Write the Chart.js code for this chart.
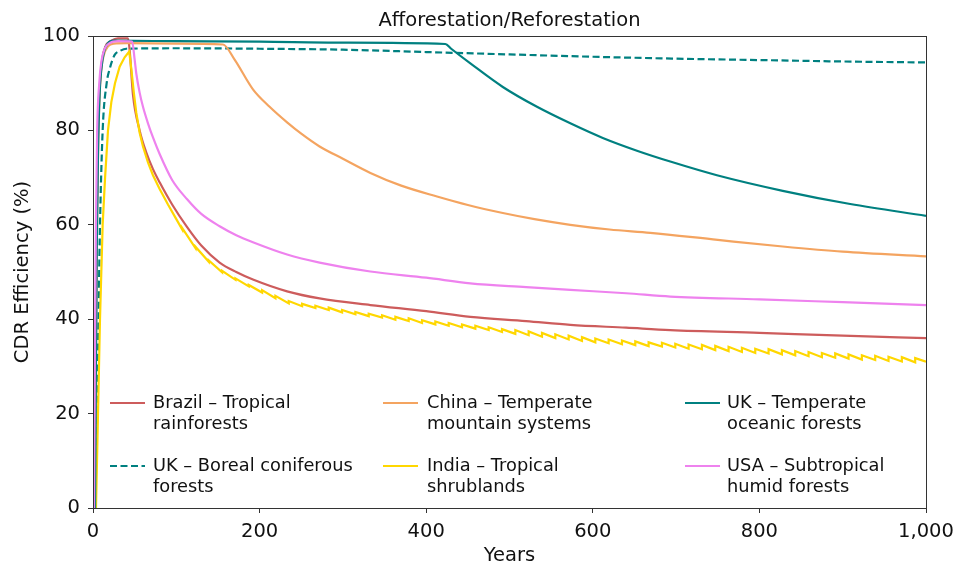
<!DOCTYPE html>
<html>
<head>
<meta charset="utf-8">
<script src="https://cdn.jsdelivr.net/npm/chart.js@4.4.1/dist/chart.umd.min.js"></script>
<style>
  html, body { margin: 0; padding: 0; background: #ffffff; }
  #wrap { width: 959px; height: 569px; position: relative; }
</style>
</head>
<body>
<div id="wrap"><canvas id="c" width="959" height="569"></canvas></div>
<script>
// ---------------- DATA ----------------
const chartTitle = 'Afforestation/Reforestation';
const xAxisTitle = 'Years';
const yAxisTitle = 'CDR Efficiency (%)';
const xTickValues = [0, 200, 400, 600, 800, 1000];
const xTickLabels = ['0', '200', '400', '600', '800', '1,000'];
const yTickValues = [0, 20, 40, 60, 80, 100];
const yTickLabels = ['0', '20', '40', '60', '80', '100'];

const seriesNames = [
  ['Brazil \u2013 Tropical', 'rainforests'],
  ['UK \u2013 Boreal coniferous', 'forests'],
  ['China \u2013 Temperate', 'mountain systems'],
  ['India \u2013 Tropical', 'shrublands'],
  ['UK \u2013 Temperate', 'oceanic forests'],
  ['USA \u2013 Subtropical', 'humid forests']
];

const brazilYears  = [2.5, 3.3, 4.4, 6, 8.4, 11, 15, 22, 30, 42, 44, 48, 56, 64, 72, 80, 95, 113, 130, 152, 172, 192, 233, 272, 333, 400, 453, 520, 573, 640, 693, 800, 900, 1000];
const brazilValues = [0, 30, 60, 80, 90, 95, 97.8, 99, 99.5, 99.5, 97, 87.5, 80, 75.3, 71.8, 69, 64.3, 59.5, 55.6, 52, 50, 48.4, 45.9, 44.4, 43, 41.7, 40.5, 39.6, 38.8, 38.2, 37.7, 37.1, 36.5, 36];

const ukBorealYears  = [3, 5, 7, 8.4, 11.6, 16.4, 20, 26, 32, 40, 100, 200, 300, 400, 500, 600, 700, 800, 900, 1000];
const ukBorealValues = [0, 25, 45, 60, 80, 90, 93, 96, 96.8, 97.3, 97.4, 97.3, 97.1, 96.6, 96.1, 95.6, 95.2, 94.9, 94.6, 94.4];

const chinaYears  = [2.5, 3.5, 4.5, 6, 8, 10, 13, 18, 25, 40, 100, 156, 170, 192, 212, 233, 250, 272, 300, 333, 370, 413, 450, 492, 530, 573, 620, 669, 750, 828, 900, 1000];
const chinaValues = [0, 30, 55, 75, 88, 93, 96, 97.8, 98.4, 98.5, 98.4, 98.2, 95, 88.7, 85, 81.7, 79.3, 76.6, 74, 71, 68.3, 66, 64.2, 62.5, 61.2, 60, 59, 58.3, 56.8, 55.4, 54.3, 53.3];

const indiaYears = [3.6, 6, 8.4, 11.6, 14.5, 18, 22, 26.4, 32, 38, 43.5, 46, 49, 52, 56, 60, 66, 72, 80, 90, 100,
  107, 107, 123, 123, 139, 139, 155, 155, 171, 171, 187, 187, 203, 203, 219, 219, 235, 235, 251, 251,
  267, 267, 283, 283, 299, 299, 315, 315, 331, 331, 347, 347, 363, 363, 379, 379, 395, 395, 411, 411,
  427, 427, 443, 443, 459, 459, 475, 475, 491, 491, 507, 507, 523, 523, 539, 539, 555, 555, 571, 571,
  587, 587, 603, 603, 619, 619, 635, 635, 651, 651, 667, 667, 683, 683, 699, 699, 715, 715, 731, 731,
  747, 747, 763, 763, 779, 779, 795, 795, 811, 811, 827, 827, 843, 843, 859, 859, 875, 875, 891, 891,
  907, 907, 923, 923, 939, 939, 955, 955, 971, 971, 987, 987, 1000];
const indiaValues = [0, 20, 40, 60, 70, 80, 86, 90, 93.5, 95.5, 96.7, 93, 88, 83.7, 79.5, 76.6, 73.2, 70.5, 67.6, 64.3, 61.2,
  59.05, 59.35, 55.05, 55.35, 52.15, 52.45, 49.95, 50.25, 48.35, 48.65, 46.95, 47.25, 45.65, 46.15, 44.45, 44.95, 43.35, 43.85, 42.75, 43.25,
  42.35, 42.85, 41.95, 42.45, 41.45, 41.95, 41.05, 41.55, 40.65, 41.15, 40.35, 40.85, 39.9, 40.5, 39.6, 40.2, 39.2, 39.8, 38.9, 39.5,
  38.6, 39.2, 38.3, 38.9, 38.0, 38.6, 37.7, 38.3, 37.3, 37.9, 36.9, 37.7, 36.6, 37.4, 36.3, 37.1, 36.0, 36.8, 35.7, 36.5,
  35.4, 36.2, 35.1, 35.9, 34.9, 35.7, 34.7, 35.5, 34.5, 35.3, 34.3, 35.1, 34.2, 35.0, 34.0, 34.8, 33.75, 34.65, 33.65, 34.55,
  33.45, 34.35, 33.25, 34.15, 33.05, 33.95, 32.85, 33.75, 32.75, 33.65, 32.55, 33.45, 32.35, 33.25, 32.15, 33.05, 31.95, 32.85, 31.85, 32.75,
  31.65, 32.55, 31.45, 32.35, 31.35, 32.25, 31.15, 32.05, 31.05, 31.95, 30.85, 31.75, 31.0];

const ukTemperateYears  = [2.5, 3.5, 4.5, 6, 8, 10, 13, 18, 25, 100, 200, 300, 423, 430, 453, 492, 533, 573, 612, 653, 693, 749, 828, 909, 1000];
const ukTemperateValues = [0, 30, 55, 75, 88, 93, 96.5, 98.5, 99, 98.9, 98.8, 98.6, 98.3, 97.3, 94.2, 89.2, 85, 81.5, 78.4, 75.7, 73.4, 70.5, 67.2, 64.4, 61.9];

const usaYears  = [1.2, 2.2, 3.5, 5, 7.5, 10, 14, 20, 30, 47, 50, 52, 56, 60, 66, 72, 80, 95, 113, 130, 152, 172, 192, 233, 272, 333, 400, 453, 520, 573, 640, 693, 800, 900, 1000];
const usaValues = [0, 30, 60, 80, 90, 94.5, 97.3, 98.5, 98.9, 98.8, 95, 92, 88, 85, 81.5, 78.5, 75, 69.5, 65.4, 62.3, 59.7, 57.8, 56.3, 53.7, 52, 50.1, 48.8, 47.6, 46.8, 46.2, 45.5, 44.8, 44.2, 43.6, 43.0];

const seriesColors = ['#cd5c5c', '#008080', '#f4a460', '#ffd700', '#008080', '#ee82ee'];
const seriesDashed = [false, true, false, false, false, false];
const seriesSawtooth = [false, false, false, true, false, false];

// ---------------- BUILD ----------------
function pts(xs, ys) { return xs.map((x, i) => ({ x: x, y: ys[i] })); }
const allSeries = [
  pts(brazilYears, brazilValues),
  pts(ukBorealYears, ukBorealValues),
  pts(chinaYears, chinaValues),
  pts(indiaYears, indiaValues),
  pts(ukTemperateYears, ukTemperateValues),
  pts(usaYears, usaValues)
];

const FONT = "'DejaVu Sans', sans-serif";
const TXT = '#111111';
const SPINE = '#333333';
const AXFONT = 19.5;
const LEGFONT = 17.8;
const DASH = [7, 3.5];

const datasets = allSeries.map((d, i) => ({
  label: seriesNames[i].join(' '),
  data: d,
  showLine: true,
  borderColor: seriesColors[i],
  backgroundColor: seriesColors[i],
  borderWidth: 2.2,
  borderDash: seriesDashed[i] ? DASH : [],
  pointRadius: 0,
  pointHoverRadius: 0,
  tension: 0,
  cubicInterpolationMode: seriesSawtooth[i] ? 'default' : 'monotone',
  fill: false,
  order: allSeries.length - i
}));

const framePlugin = {
  id: 'frame',
  afterDatasetsDraw(chart) {
    const a = chart.chartArea;
    const ctx = chart.ctx;
    ctx.save();
    ctx.strokeStyle = SPINE;
    ctx.lineWidth = 1;
    ctx.strokeRect(Math.round(a.left) + 0.5, Math.round(a.top) + 0.5, Math.round(a.right - a.left), Math.round(a.bottom - a.top));
    ctx.restore();
  }
};

const legendPlugin = {
  id: 'multiLegend',
  afterDatasetsDraw(chart) {
    const ctx = chart.ctx;
    const cols = [{ lx: 110, tx: 153 }, { lx: 383, tx: 427 }, { lx: 685, tx: 727 }];
    const rows = [403, 466];
    const lineGap = 21.5;
    ctx.save();
    ctx.font = LEGFONT + 'px ' + FONT;
    ctx.fillStyle = TXT;
    ctx.textBaseline = 'middle';
    ctx.textAlign = 'left';
    seriesNames.forEach((name, i) => {
      const c = cols[Math.floor(i / 2)];
      const y = rows[i % 2];
      ctx.save();
      ctx.strokeStyle = seriesColors[i];
      ctx.lineWidth = 2.2;
      ctx.setLineDash(seriesDashed[i] ? DASH : []);
      ctx.beginPath();
      ctx.moveTo(c.lx, y);
      ctx.lineTo(c.lx + 35, y);
      ctx.stroke();
      ctx.restore();
      name.forEach((ln, k) => ctx.fillText(ln, c.tx, y + k * lineGap));
    });
    ctx.restore();
  }
};

new Chart(document.getElementById('c'), {
  type: 'scatter',
  data: { datasets: datasets },
  options: {
    responsive: false,
    animation: false,
    devicePixelRatio: 1,
    layout: { padding: { left: 0, right: 33, top: 0, bottom: 0 } },
    plugins: {
      legend: { display: false },
      tooltip: { enabled: false },
      title: {
        display: true,
        fullSize: false,
        text: chartTitle,
        color: TXT,
        font: { family: FONT, size: AXFONT, weight: 'normal' },
        padding: { top: 9.5, bottom: 3.1 }
      }
    },
    scales: {
      x: {
        type: 'linear',
        min: 0,
        max: 1000,
        afterBuildTicks(scale) { scale.ticks = xTickValues.map(v => ({ value: v })); },
        afterFit(scale) { scale.height = 61; scale.paddingLeft = 0; scale.paddingRight = 0; },
        ticks: {
          color: TXT,
          font: { family: FONT, size: AXFONT },
          padding: 7,
          maxRotation: 0,
          autoSkip: false,
          callback(v) { const i = xTickValues.indexOf(v); return i >= 0 ? xTickLabels[i] : ''; }
        },
        grid: { display: true, drawOnChartArea: false, drawTicks: true, tickLength: 5, color: SPINE },
        border: { display: false },
        title: {
          display: true,
          text: xAxisTitle,
          color: TXT,
          font: { family: FONT, size: AXFONT },
          padding: { top: 0, bottom: 1 }
        }
      },
      y: {
        type: 'linear',
        min: 0,
        max: 100,
        afterBuildTicks(scale) { scale.ticks = yTickValues.map(v => ({ value: v })); },
        afterFit(scale) { scale.width = 93; scale.paddingTop = 0; scale.paddingBottom = 0; },
        ticks: {
          color: TXT,
          font: { family: FONT, size: AXFONT },
          padding: 8,
          autoSkip: false,
          callback(v) { const i = yTickValues.indexOf(v); return i >= 0 ? yTickLabels[i] : ''; }
        },
        grid: { display: true, drawOnChartArea: false, drawTicks: true, tickLength: 5, color: SPINE },
        border: { display: false },
        title: {
          display: true,
          text: yAxisTitle,
          color: TXT,
          font: { family: FONT, size: AXFONT },
          padding: { top: 11, bottom: 0 }
        }
      }
    }
  },
  plugins: [framePlugin, legendPlugin]
});
</script>
</body>
</html>
